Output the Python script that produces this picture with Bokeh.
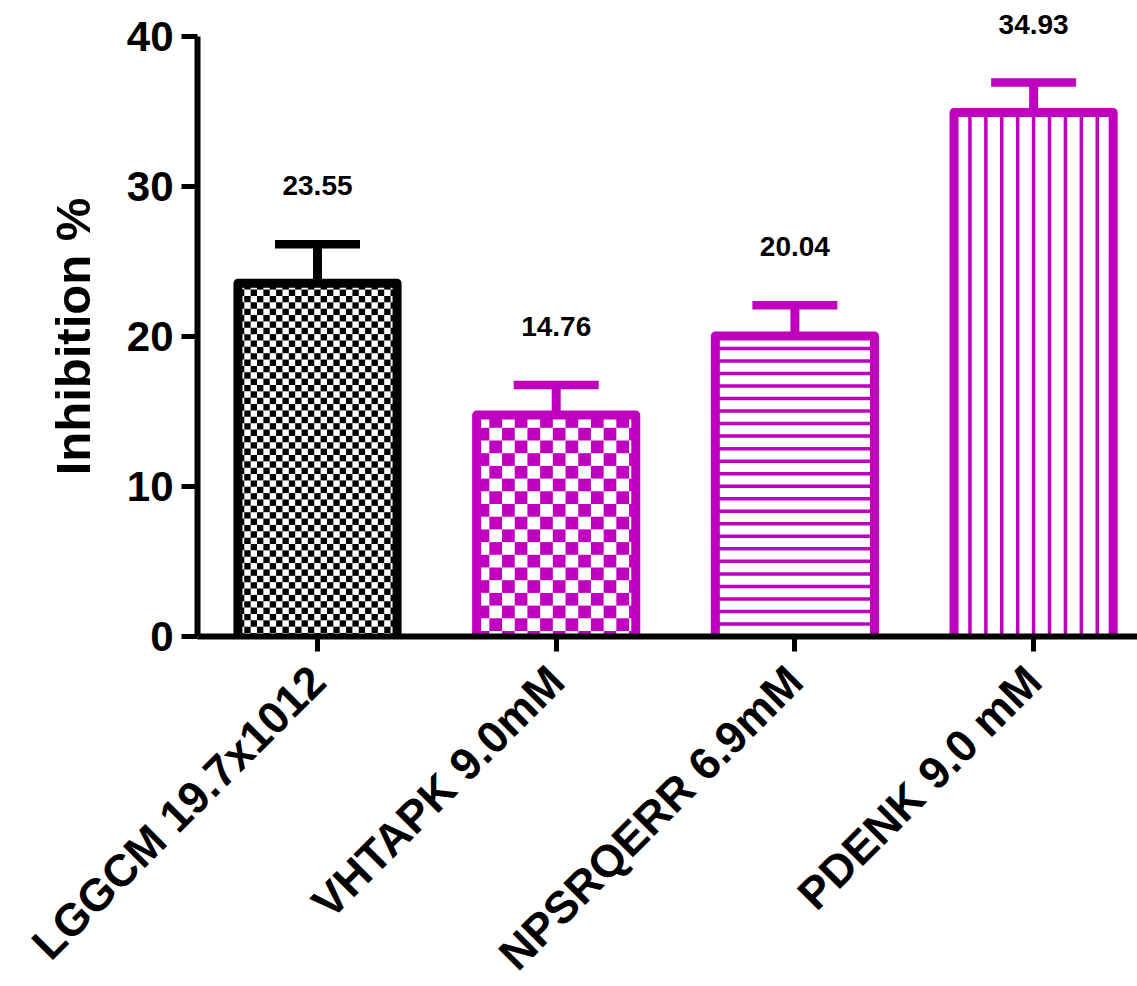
import math
from bokeh.plotting import figure
from bokeh.models import Range1d, FixedTicker, ColumnDataSource
from bokeh.core.properties import value
from bokeh.embed import file_html
from bokeh.resources import INLINE

# ---- data -------------------------------------------------------------
categories = ["LGGCM 19.7x1012", "VHTAPK 9.0mM", "NPSRQERR 6.9mM", "PDENK 9.0 mM"]
inhibition = [23.55, 14.76, 20.04, 34.93]
sem = [2.6, 2.0, 2.05, 2.0]
bar_colors = ["#000000", "#BF00BF", "#BF00BF", "#BF00BF"]
fills = ["checker_small", "checker_large", "horizontal", "vertical"]
y_ticks = [0, 10, 20, 30, 40]
y_title = "Inhibition %"

# ---- geometry ---------------------------------------------------------
W, H = 1137, 986
AXIS_PX = 197          # y axis position (px from left)
FIRST_BAR_PX = 317     # centre of the first bar (px from left)
BAR_STEP_PX = 238.7    # distance between bar centres (px)
BASE_PX = 636          # y = 0 position (px from top)
PX_PER_UNIT = 15.0     # vertical scale
X0 = -FIRST_BAR_PX / BAR_STEP_PX
X1 = (W - FIRST_BAR_PX) / BAR_STEP_PX
Y1 = BASE_PX / PX_PER_UNIT
Y0 = -(H - BASE_PX) / PX_PER_UNIT
X_AXIS = X0 + AXIS_PX / BAR_STEP_PX
BAR_W = 2 / 3
FONT = "Liberation Sans"

dx_px = 1 / BAR_STEP_PX
dy_px = 1 / PX_PER_UNIT

xs = list(range(len(categories)))

p = figure(width=W, height=H, x_range=Range1d(X0, X1), y_range=Range1d(Y0, Y1),
           output_backend="svg", toolbar_location=None,
           min_border_left=0, min_border_right=0,
           min_border_top=0, min_border_bottom=0)
p.outline_line_color = None
p.xgrid.visible = False
p.ygrid.visible = False
p.background_fill_color = "white"
p.border_fill_color = "white"

# white bar bodies
p.vbar(x=xs, width=BAR_W, top=inhibition, bottom=0,
       fill_color="white", line_color=None)

# fill patterns inside the bars
quad_l, quad_r, quad_t, quad_b, quad_c = [], [], [], [], []
seg_x0, seg_y0, seg_x1, seg_y1, seg_c = [], [], [], [], []
for xc, top, col, kind in zip(xs, inhibition, bar_colors, fills):
    left, right = xc - BAR_W / 2, xc + BAR_W / 2
    if kind.startswith("checker"):
        cell = 6.36 if kind == "checker_small" else 12.7
        cw, ch = cell * dx_px, cell * dy_px
        nx = int(math.ceil(BAR_W / cw))
        ny = int(math.ceil(top / ch))
        for i in range(nx):
            for j in range(ny):
                if (i + j) % 2 == 1:
                    l = left + i * cw
                    r = min(l + cw, right)
                    t = top - j * ch
                    b = max(t - ch, 0)
                    quad_l.append(l); quad_r.append(r)
                    quad_t.append(t); quad_b.append(b)
                    quad_c.append(col)
    elif kind == "horizontal":
        step = 12.5 * dy_px
        n = int(round(top / step))
        for k in range(1, n):
            y = top - k * top / n
            seg_x0.append(left); seg_x1.append(right)
            seg_y0.append(y); seg_y1.append(y); seg_c.append(col)
    elif kind == "vertical":
        for k in range(1, 10):
            x = left + BAR_W * k / 10
            seg_x0.append(x); seg_x1.append(x)
            seg_y0.append(0); seg_y1.append(top); seg_c.append(col)

p.quad(left=quad_l, right=quad_r, top=quad_t, bottom=quad_b,
       fill_color=quad_c, line_color=None)
p.segment(x0=seg_x0, y0=seg_y0, x1=seg_x1, y1=seg_y1,
          line_color=seg_c, line_width=3.5)

# bar outlines (open at the baseline)
outline_x = [[x - BAR_W / 2, x - BAR_W / 2, x + BAR_W / 2, x + BAR_W / 2] for x in xs]
outline_y = [[0, t, t, 0] for t in inhibition]
p.multi_line(xs=outline_x, ys=outline_y, line_color=bar_colors,
             line_width=9, line_join="round", line_cap="butt")

# error bars (upper whisker only)
err_top = [t + e for t, e in zip(inhibition, sem)]
CAP = 0.178
p.segment(x0=xs, y0=inhibition, x1=xs, y1=err_top,
          line_color=bar_colors, line_width=9)
p.segment(x0=[x - CAP for x in xs], y0=err_top, x1=[x + CAP for x in xs], y1=err_top,
          line_color=bar_colors, line_width=8.5, line_cap="butt")

# value labels
lab_src = ColumnDataSource(dict(x=xs, y=[e + 3.9 for e in err_top],
                                txt=[f"{v:.2f}" for v in inhibition]))
p.text(x="x", y="y", text="txt", source=lab_src,
       text_font=value(FONT), text_font_style="bold", text_font_size="28px",
       text_align="center", text_baseline="middle", text_color="black")

# y axis title, centred on the 0-40 span
p.text(x=[X0 + 72 * dx_px], y=[(y_ticks[0] + y_ticks[-1]) / 2], text=[y_title],
       angle=math.pi / 2, text_font=value(FONT), text_font_style="bold",
       text_font_size="49px", text_align="center", text_baseline="middle",
       text_color="black")

# x axis, pinned to y = 0
xa = p.xaxis[0]
xa.fixed_location = 0
xa.bounds = (X_AXIS, X1)
xa.ticker = FixedTicker(ticks=xs)
xa.major_label_overrides = {i: c for i, c in zip(xs, categories)}
xa.major_label_orientation = math.pi / 4
xa.major_label_text_font = FONT
xa.major_label_text_font_style = "bold"
xa.major_label_text_font_size = "45px"
xa.major_label_text_color = "black"
xa.major_label_standoff = 22
xa.axis_line_width = 6
xa.axis_line_color = "black"
xa.major_tick_line_width = 5
xa.major_tick_line_color = "black"
xa.major_tick_out = 15
xa.major_tick_in = 0
xa.minor_tick_line_color = None

# y axis, pinned to its position left of the first bar
ya = p.yaxis[0]
ya.fixed_location = X_AXIS
ya.ticker = FixedTicker(ticks=y_ticks)
ya.bounds = (y_ticks[0], y_ticks[-1])
ya.major_label_text_font = FONT
ya.major_label_text_font_style = "bold"
ya.major_label_text_font_size = "42px"
ya.major_label_text_color = "black"
ya.major_label_standoff = 8
ya.axis_line_width = 6
ya.axis_line_color = "black"
ya.major_tick_line_width = 5
ya.major_tick_line_color = "black"
ya.major_tick_out = 16
ya.major_tick_in = 0
ya.minor_tick_line_color = None

open("out.html", "w").write(file_html(p, INLINE))
